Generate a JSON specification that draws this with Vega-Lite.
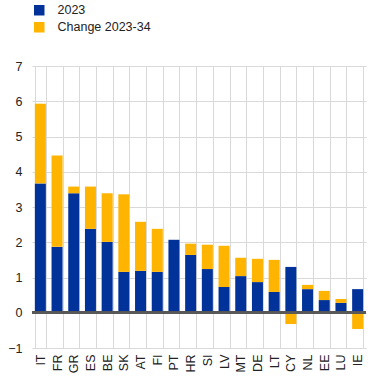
{
  "$schema": "https://vega.github.io/schema/vega-lite/v6.json",
  "autosize": "none",
  "width": 334,
  "height": 282,
  "padding": {"left": 32, "top": 66, "right": 4, "bottom": 32},
  "background": "white",
  "config": {
    "font": "Liberation Sans",
    "view": {"stroke": null},
    "axis": {"labelFont": "Liberation Sans", "labelFontSize": 12.5, "labelColor": "#222222"}
  },
  "data": {
    "values": [
      {"country": "IT", "series": "2023", "ord": 1, "value": 3.67},
      {"country": "IT", "series": "Change 2023-34", "ord": 2, "value": 2.26},
      {"country": "FR", "series": "2023", "ord": 1, "value": 1.87},
      {"country": "FR", "series": "Change 2023-34", "ord": 2, "value": 2.59},
      {"country": "GR", "series": "2023", "ord": 1, "value": 3.39},
      {"country": "GR", "series": "Change 2023-34", "ord": 2, "value": 0.19},
      {"country": "ES", "series": "2023", "ord": 1, "value": 2.38},
      {"country": "ES", "series": "Change 2023-34", "ord": 2, "value": 1.2},
      {"country": "BE", "series": "2023", "ord": 1, "value": 2.01},
      {"country": "BE", "series": "Change 2023-34", "ord": 2, "value": 1.38},
      {"country": "SK", "series": "2023", "ord": 1, "value": 1.16},
      {"country": "SK", "series": "Change 2023-34", "ord": 2, "value": 2.2},
      {"country": "AT", "series": "2023", "ord": 1, "value": 1.19},
      {"country": "AT", "series": "Change 2023-34", "ord": 2, "value": 1.39},
      {"country": "FI", "series": "2023", "ord": 1, "value": 1.16},
      {"country": "FI", "series": "Change 2023-34", "ord": 2, "value": 1.22},
      {"country": "PT", "series": "2023", "ord": 1, "value": 2.07},
      {"country": "PT", "series": "Change 2023-34", "ord": 2, "value": 0.0},
      {"country": "HR", "series": "2023", "ord": 1, "value": 1.64},
      {"country": "HR", "series": "Change 2023-34", "ord": 2, "value": 0.32},
      {"country": "SI", "series": "2023", "ord": 1, "value": 1.24},
      {"country": "SI", "series": "Change 2023-34", "ord": 2, "value": 0.69},
      {"country": "LV", "series": "2023", "ord": 1, "value": 0.73},
      {"country": "LV", "series": "Change 2023-34", "ord": 2, "value": 1.17},
      {"country": "MT", "series": "2023", "ord": 1, "value": 1.04},
      {"country": "MT", "series": "Change 2023-34", "ord": 2, "value": 0.52},
      {"country": "DE", "series": "2023", "ord": 1, "value": 0.87},
      {"country": "DE", "series": "Change 2023-34", "ord": 2, "value": 0.66},
      {"country": "LT", "series": "2023", "ord": 1, "value": 0.59},
      {"country": "LT", "series": "Change 2023-34", "ord": 2, "value": 0.91},
      {"country": "CY", "series": "2023", "ord": 1, "value": 1.3},
      {"country": "CY", "series": "Change 2023-34", "ord": 2, "value": -0.32},
      {"country": "NL", "series": "2023", "ord": 1, "value": 0.67},
      {"country": "NL", "series": "Change 2023-34", "ord": 2, "value": 0.12},
      {"country": "EE", "series": "2023", "ord": 1, "value": 0.36},
      {"country": "EE", "series": "Change 2023-34", "ord": 2, "value": 0.26},
      {"country": "LU", "series": "2023", "ord": 1, "value": 0.28},
      {"country": "LU", "series": "Change 2023-34", "ord": 2, "value": 0.11},
      {"country": "IE", "series": "2023", "ord": 1, "value": 0.67},
      {"country": "IE", "series": "Change 2023-34", "ord": 2, "value": -0.46}
    ]
  },
  "layer": [
    {
      "mark": {"type": "bar"},
      "encoding": {
        "x": {
          "field": "country", "type": "nominal", "sort": null, "title": null,
          "scale": {"paddingInner": 0.34, "paddingOuter": 0.17},
          "axis": {
            "labelAngle": -90, "labelAlign": "right", "labelBaseline": "middle",
            "labelPadding": 6, "ticks": false, "domain": false, "labelOverlap": false,
            "grid": true, "gridColor": "#d9d9d9", "gridWidth": 1, "tickBand": "extent"
          }
        },
        "y": {
          "field": "value", "type": "quantitative", "title": null,
          "scale": {"domain": [-1, 7], "nice": false},
          "axis": {
            "tickCount": 8, "ticks": false, "domain": false,
            "labelOverlap": false, "labelFlush": false,
            "labelPadding": 10, "gridColor": "#d9d9d9", "gridWidth": 1
          }
        },
        "color": {
          "field": "series", "type": "nominal", "title": null,
          "scale": {"domain": ["2023", "Change 2023-34"], "range": ["#003299", "#ffb400"]},
          "legend": {
            "orient": "none", "legendX": 1, "legendY": -62, "direction": "vertical",
            "symbolType": "square", "symbolSize": 110, "symbolStrokeWidth": 0,
            "labelFontSize": 12.5, "labelFont": "Liberation Sans", "labelColor": "#222222",
            "labelOffset": 12, "rowPadding": 4
          }
        },
        "order": {"field": "ord", "type": "quantitative"}
      }
    },
    {
      "mark": {"type": "rule", "color": "#595959", "strokeWidth": 2},
      "encoding": {"y": {"datum": 0}}
    }
  ]
}
